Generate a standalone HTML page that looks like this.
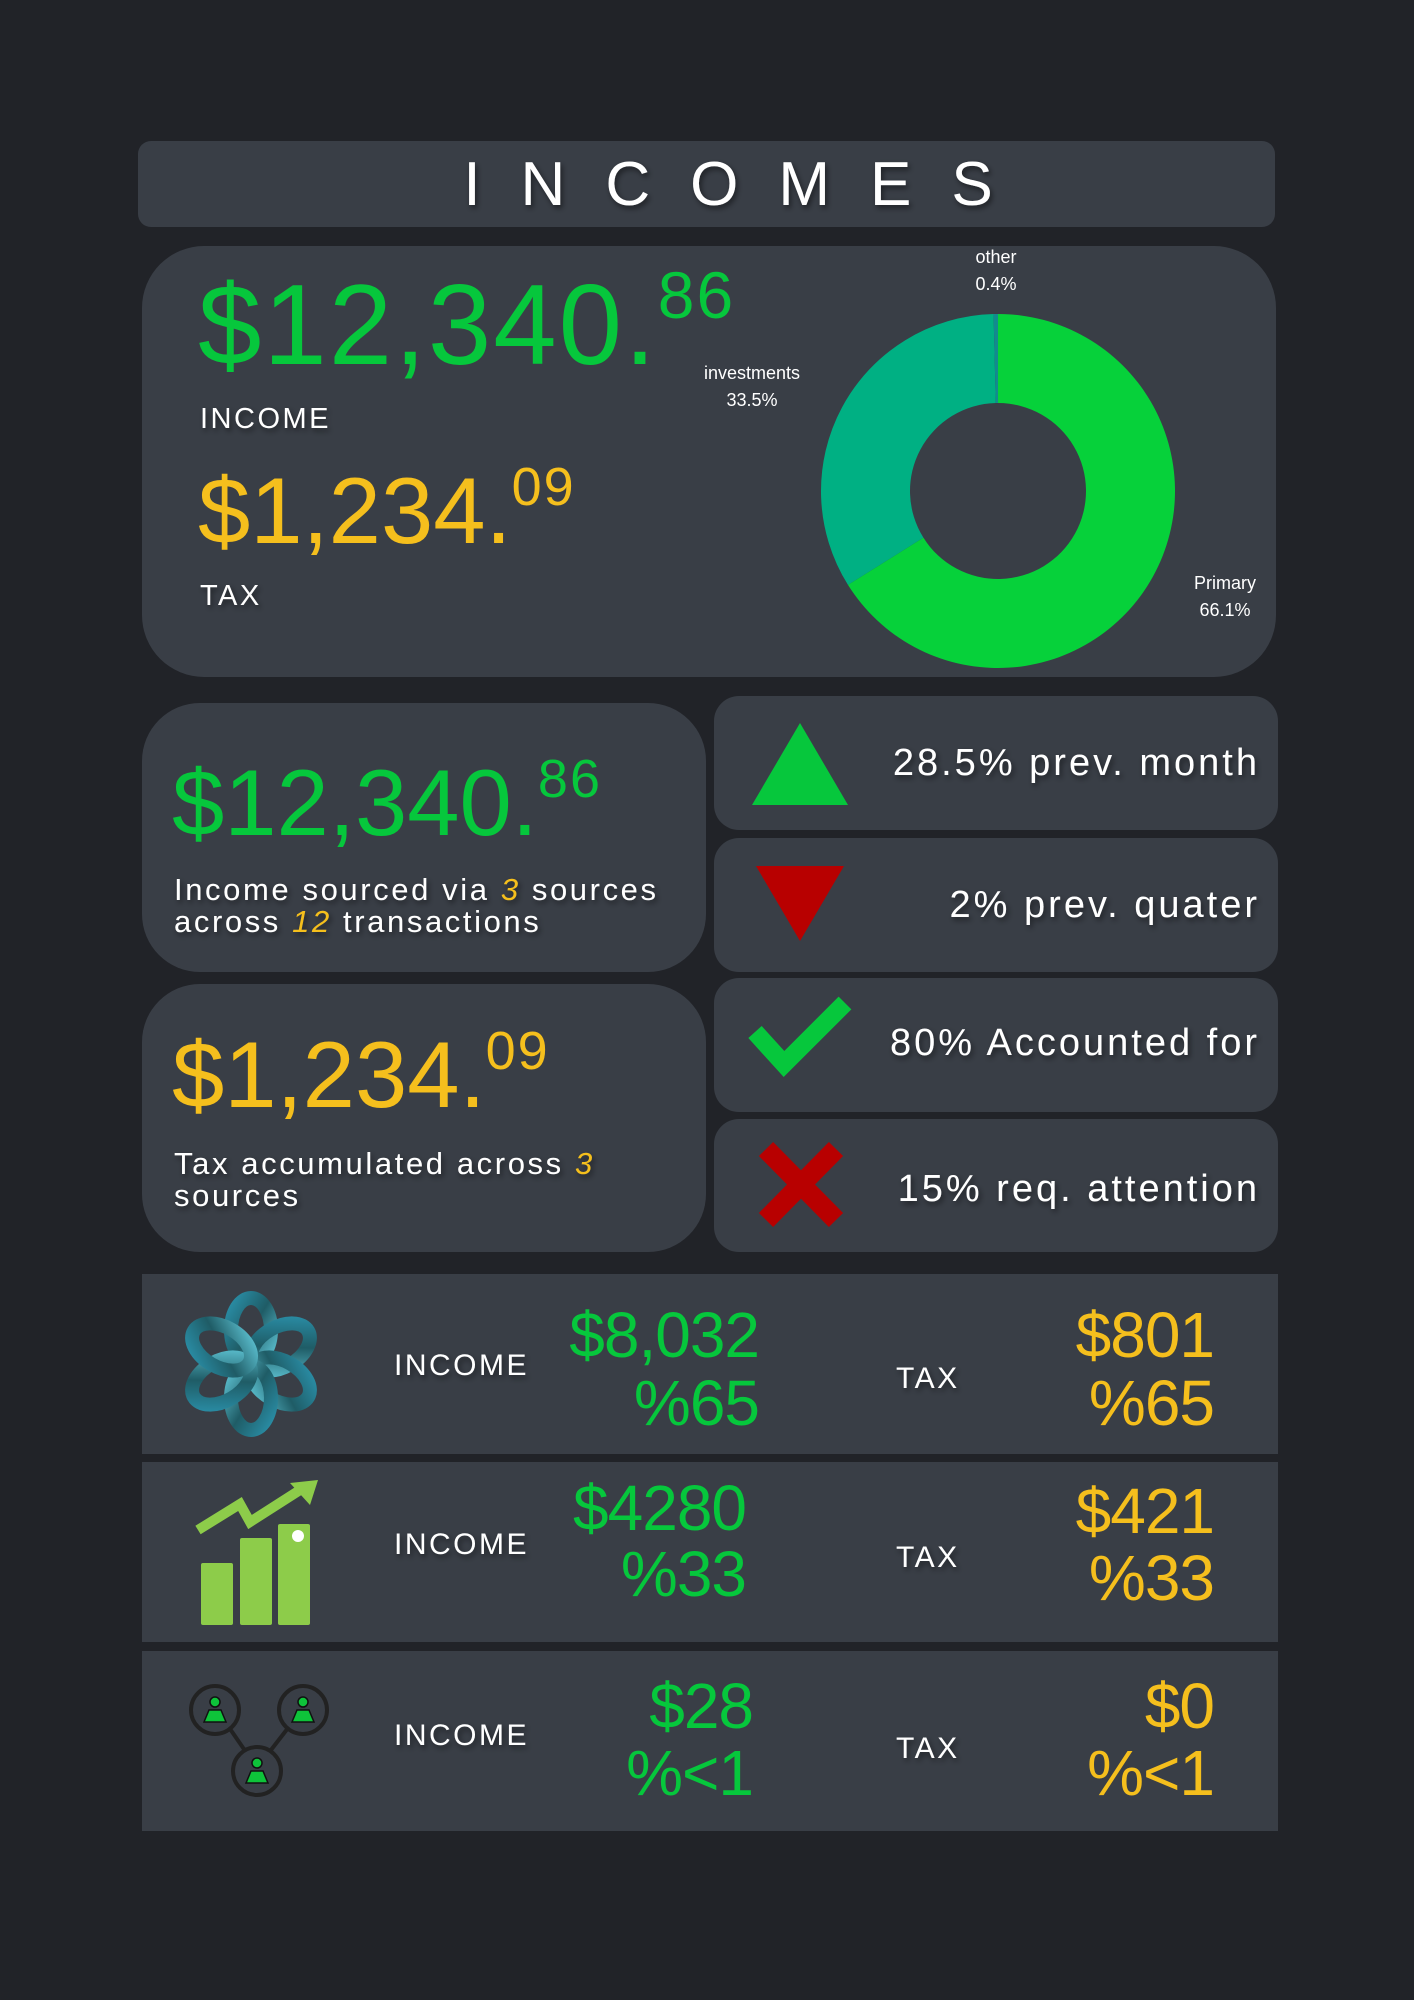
<!DOCTYPE html>
<html><head><meta charset="utf-8"><style>
html,body{margin:0;padding:0;background:#212328;}
svg{display:block}
.lbl{font-family:"Liberation Sans",sans-serif;fill:#fff;}
.num{font-family:"Liberation Sans",sans-serif;}
</style></head><body>
<svg width="1414" height="2000" viewBox="0 0 1414 2000">
<defs>
<filter id="sh" x="-10%" y="-30%" width="120%" height="160%"><feDropShadow dx="2" dy="3" stdDeviation="3" flood-color="#000" flood-opacity="0.5"/></filter>
<linearGradient id="teal" x1="0" y1="0" x2="1" y2="1"><stop offset="0" stop-color="#2a8fa8"/><stop offset="0.5" stop-color="#1f5c66"/><stop offset="1" stop-color="#5cc0d0"/></linearGradient>
</defs>
<rect width="1414" height="2000" fill="#212328"/>

<rect x="138" y="141" width="1137" height="86" rx="13" fill="#393e46"/>
<text x="748" y="205" text-anchor="middle" class="lbl" font-size="62" letter-spacing="40" filter="url(#sh)">INCOMES</text>

<rect x="142" y="246" width="1134" height="431" rx="62" fill="#393e46"/>
<text x="198" y="364" class="num" font-size="114" fill="#06c73c" letter-spacing="2">$12,340.<tspan font-size="66" dy="-46" letter-spacing="2">86</tspan></text>
<text x="200" y="428" class="lbl" font-size="29" letter-spacing="2.5" filter="url(#sh)">INCOME</text>
<text x="198" y="543" class="num" font-size="94" fill="#f5bf1d" letter-spacing="0">$1,234.<tspan font-size="54" dy="-38" letter-spacing="2">09</tspan></text>
<text x="200" y="605" class="lbl" font-size="29" letter-spacing="2.5" filter="url(#sh)">TAX</text>

<g id="donut"></g>
<text x="996" y="263" text-anchor="middle" class="lbl" font-size="18">other<tspan x="996" dy="27">0.4%</tspan></text>
<text x="752" y="379" text-anchor="middle" class="lbl" font-size="18">investments<tspan x="752" dy="27">33.5%</tspan></text>
<text x="1225" y="589" text-anchor="middle" class="lbl" font-size="18">Primary<tspan x="1225" dy="27">66.1%</tspan></text>

<rect x="142" y="703" width="564" height="269" rx="58" fill="#393e46"/>
<text x="172" y="835" class="num" font-size="94" fill="#06c73c" letter-spacing="0">$12,340.<tspan font-size="54" dy="-38" letter-spacing="2">86</tspan></text>
<text x="174" y="900" class="lbl" font-size="31" letter-spacing="2.6" filter="url(#sh)">Income sourced via <tspan fill="#f5bf1d" font-style="italic">3</tspan> sources<tspan x="174" dy="32">across </tspan><tspan fill="#f5bf1d" font-style="italic">12</tspan> transactions</text>

<rect x="142" y="984" width="564" height="268" rx="58" fill="#393e46"/>
<text x="172" y="1107" class="num" font-size="94" fill="#f5bf1d" letter-spacing="0">$1,234.<tspan font-size="54" dy="-38" letter-spacing="2">09</tspan></text>
<text x="174" y="1174" class="lbl" font-size="31" letter-spacing="2.6" filter="url(#sh)">Tax accumulated across <tspan fill="#f5bf1d" font-style="italic">3</tspan><tspan x="174" dy="32">sources</tspan></text>

<rect x="714" y="696" width="564" height="134" rx="25" fill="#393e46"/>
<polygon points="800,723 848,805 752,805" fill="#06c73c"/>
<text x="1260" y="775" text-anchor="end" class="lbl" font-size="38" letter-spacing="3" filter="url(#sh)">28.5% prev. month</text>

<rect x="714" y="838" width="564" height="134" rx="25" fill="#393e46"/>
<polygon points="756,866 844,866 800,941" fill="#b80000"/>
<text x="1260" y="917" text-anchor="end" class="lbl" font-size="38" letter-spacing="3" filter="url(#sh)">2% prev. quater</text>

<rect x="714" y="978" width="564" height="134" rx="25" fill="#393e46"/>
<polyline points="755,1032 784,1064 845,1003" fill="none" stroke="#06c73c" stroke-width="18"/>
<text x="1260" y="1055" text-anchor="end" class="lbl" font-size="38" letter-spacing="3" filter="url(#sh)">80% Accounted for</text>

<rect x="714" y="1119" width="564" height="133" rx="25" fill="#393e46"/>
<g stroke="#b80000" stroke-width="20"><line x1="766" y1="1149" x2="836" y2="1220"/><line x1="836" y1="1149" x2="766" y2="1220"/></g>
<text x="1260" y="1201" text-anchor="end" class="lbl" font-size="38" letter-spacing="3" filter="url(#sh)">15% req. attention</text>

<!-- row 1 -->
<rect x="142" y="1274" width="1136" height="180" fill="#393e46"/>
<g fill="none" stroke="url(#teal)" stroke-width="14">
<ellipse cx="251" cy="1330" rx="20" ry="32" transform="rotate(0 251 1364)"/>
<ellipse cx="251" cy="1330" rx="20" ry="32" transform="rotate(60 251 1364)"/>
<ellipse cx="251" cy="1330" rx="20" ry="32" transform="rotate(120 251 1364)"/>
<ellipse cx="251" cy="1330" rx="20" ry="32" transform="rotate(180 251 1364)"/>
<ellipse cx="251" cy="1330" rx="20" ry="32" transform="rotate(240 251 1364)"/>
<ellipse cx="251" cy="1330" rx="20" ry="32" transform="rotate(300 251 1364)"/>
</g>
<text x="394" y="1375" class="lbl" font-size="30" letter-spacing="2.5" filter="url(#sh)">INCOME</text>
<text x="759" y="1357" text-anchor="end" class="num" font-size="64" fill="#06c73c" letter-spacing="-1">$8,032</text>
<text x="759" y="1425" text-anchor="end" class="num" font-size="64" fill="#06c73c" letter-spacing="-1">%65</text>
<text x="896" y="1388" class="lbl" font-size="30" letter-spacing="2.5" filter="url(#sh)">TAX</text>
<text x="1214" y="1357" text-anchor="end" class="num" font-size="64" fill="#f5bf1d" letter-spacing="-1">$801</text>
<text x="1214" y="1425" text-anchor="end" class="num" font-size="64" fill="#f5bf1d" letter-spacing="-1">%65</text>

<!-- row 2 -->
<rect x="142" y="1462" width="1136" height="180" fill="#393e46"/>
<g fill="#8dcc4a">
<rect x="201" y="1563" width="32" height="62" rx="2"/>
<rect x="240" y="1538" width="32" height="87" rx="2"/>
<rect x="278" y="1524" width="32" height="101" rx="2"/>
<circle cx="298" cy="1536" r="6" fill="#fff"/>
<polyline points="198,1530 240,1504 250,1522 300,1490" fill="none" stroke="#8dcc4a" stroke-width="10"/>
<polygon points="318,1480 290,1483 310,1505"/>
</g>
<text x="394" y="1554" class="lbl" font-size="30" letter-spacing="2.5" filter="url(#sh)">INCOME</text>
<text x="746" y="1530" text-anchor="end" class="num" font-size="64" fill="#06c73c" letter-spacing="-1">$4280</text>
<text x="746" y="1596" text-anchor="end" class="num" font-size="64" fill="#06c73c" letter-spacing="-1">%33</text>
<text x="896" y="1567" class="lbl" font-size="30" letter-spacing="2.5" filter="url(#sh)">TAX</text>
<text x="1214" y="1533" text-anchor="end" class="num" font-size="64" fill="#f5bf1d" letter-spacing="-1">$421</text>
<text x="1214" y="1600" text-anchor="end" class="num" font-size="64" fill="#f5bf1d" letter-spacing="-1">%33</text>

<!-- row 3 -->
<rect x="142" y="1651" width="1136" height="180" fill="#393e46"/>
<g>
<line x1="217" y1="1710" x2="257" y2="1768" stroke="#222" stroke-width="4"/>
<line x1="302" y1="1710" x2="257" y2="1768" stroke="#222" stroke-width="4"/>
<g fill="#393e46" stroke="#222" stroke-width="4"><circle cx="215" cy="1710" r="24"/><circle cx="303" cy="1710" r="24"/><circle cx="257" cy="1771" r="24"/></g>
<g fill="#0ec33a" stroke="#111" stroke-width="1.5">
<circle cx="215" cy="1702" r="5"/><path d="M204 1722 L209 1710 L221 1710 L226 1722Z"/>
<circle cx="303" cy="1702" r="5"/><path d="M292 1722 L297 1710 L309 1710 L314 1722Z"/>
<circle cx="257" cy="1763" r="5"/><path d="M246 1783 L251 1771 L263 1771 L268 1783Z"/>
</g></g>
<text x="394" y="1745" class="lbl" font-size="30" letter-spacing="2.5" filter="url(#sh)">INCOME</text>
<text x="753" y="1728" text-anchor="end" class="num" font-size="64" fill="#06c73c" letter-spacing="-1">$28</text>
<text x="753" y="1795" text-anchor="end" class="num" font-size="64" fill="#06c73c" letter-spacing="-1">%&lt;1</text>
<text x="896" y="1758" class="lbl" font-size="30" letter-spacing="2.5" filter="url(#sh)">TAX</text>
<text x="1214" y="1728" text-anchor="end" class="num" font-size="64" fill="#f5bf1d" letter-spacing="-1">$0</text>
<text x="1214" y="1795" text-anchor="end" class="num" font-size="64" fill="#f5bf1d" letter-spacing="-1">%&lt;1</text>
</svg>
<script>
const sliceNames = ["Primary", "investments", "other"];
const sliceValues = [66.1, 33.5, 0.4];
const sliceColors = ["#06d13a", "#00b083", "#138a8f"];
(function(){
  const g = document.getElementById('donut');
  const cx = 998, cy = 491, R = 177, r = 88;
  const total = sliceValues.reduce((a,b)=>a+b,0);
  let a0 = 0;
  const pt = (ang, rad) => [cx + rad*Math.sin(ang), cy - rad*Math.cos(ang)];
  sliceValues.forEach((v,i)=>{
    const a1 = a0 + v/total*2*Math.PI;
    const large = (a1-a0) > Math.PI ? 1 : 0;
    const [x0,y0] = pt(a0,R), [x1,y1] = pt(a1,R), [x2,y2] = pt(a1,r), [x3,y3] = pt(a0,r);
    const p = document.createElementNS('http://www.w3.org/2000/svg','path');
    p.setAttribute('d', `M${x0},${y0} A${R},${R} 0 ${large} 1 ${x1},${y1} L${x2},${y2} A${r},${r} 0 ${large} 0 ${x3},${y3} Z`);
    p.setAttribute('fill', sliceColors[i]);
    
    
    g.appendChild(p);
    a0 = a1;
  });
})();
</script>
</body></html>
